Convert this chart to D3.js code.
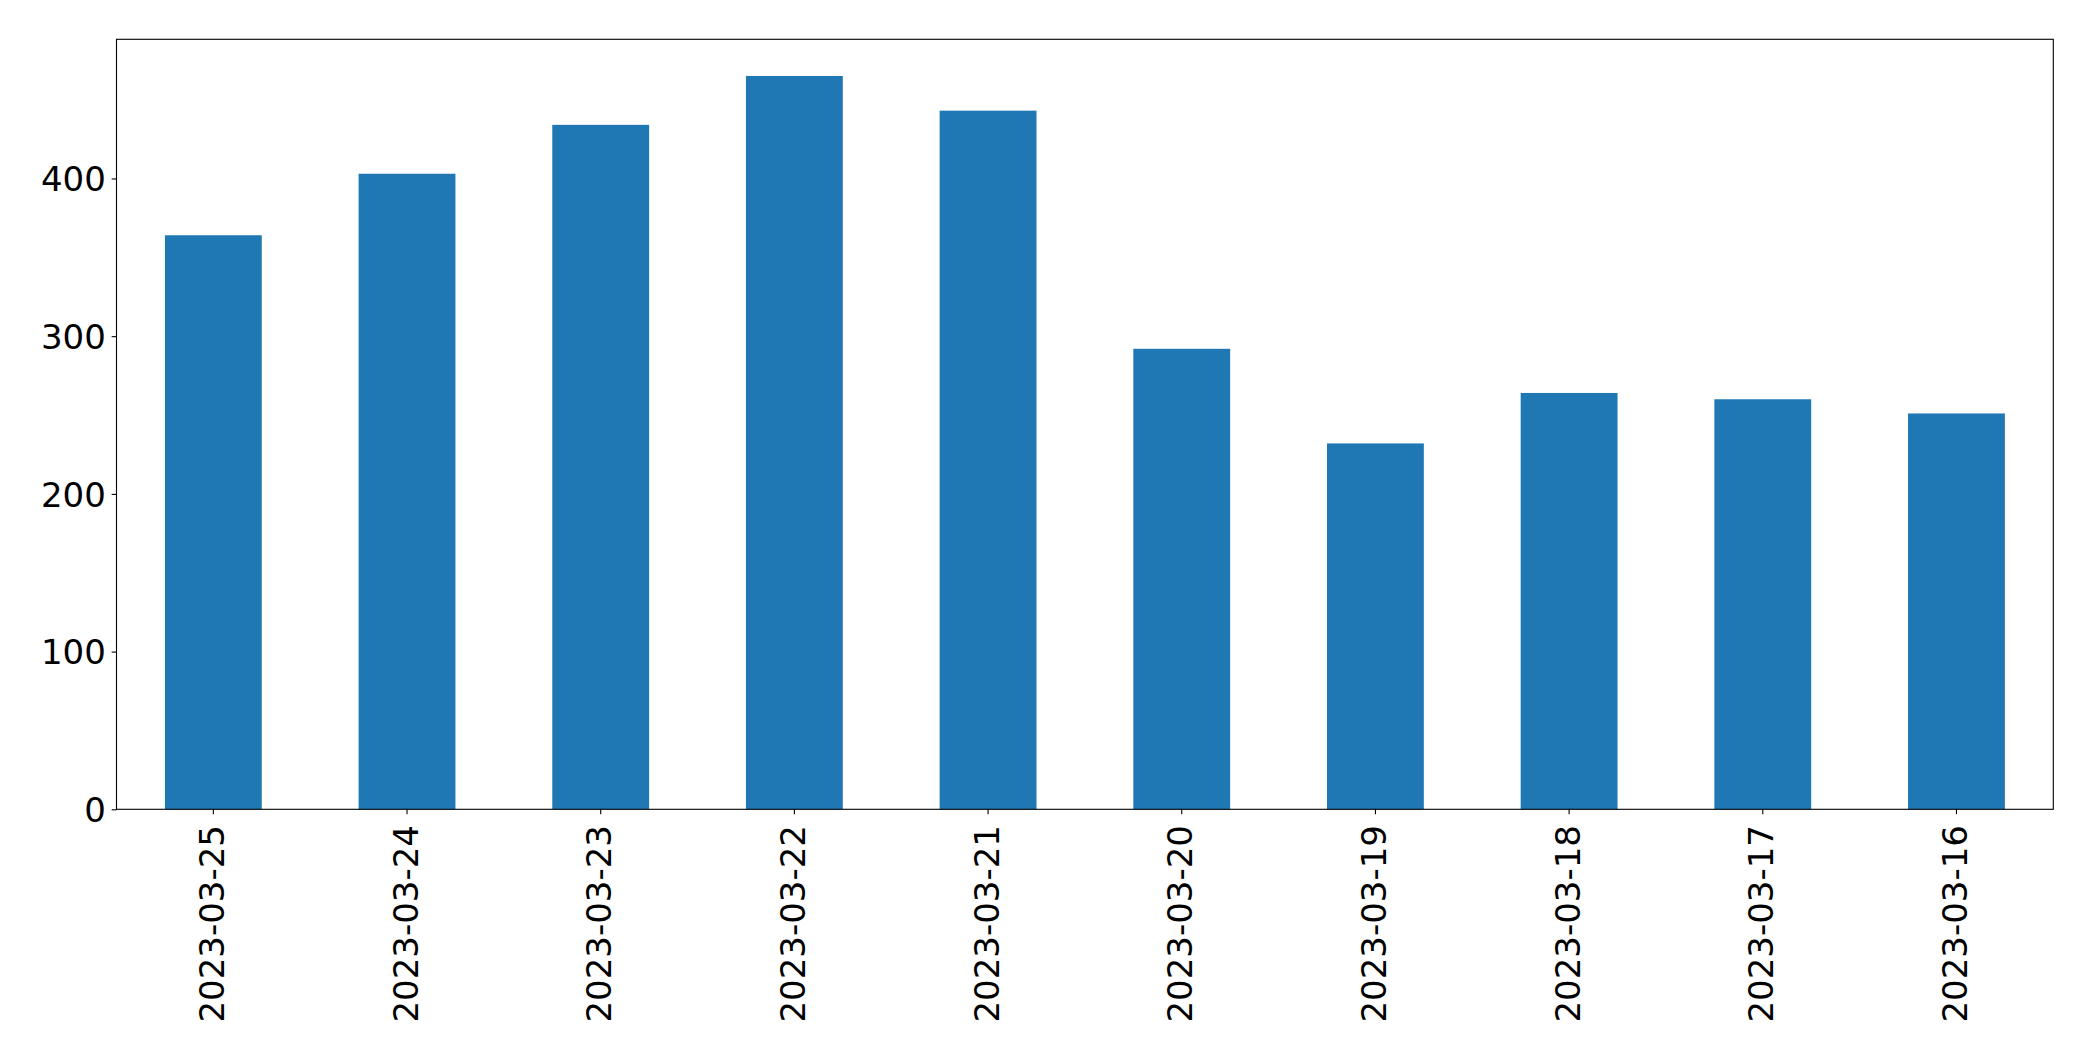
<!DOCTYPE html>
<html>
<head>
<meta charset="utf-8">
<script src="https://cdn.jsdelivr.net/npm/d3@7"></script>
<style>
  html, body { margin: 0; padding: 0; background: #fff; }
  svg { display: block; }
  text { font-family: "DejaVu Sans", sans-serif; fill: #000; }
</style>
</head>
<body>
<svg id="chart" width="2093" height="1061"></svg>
<script>
const categories = ["2023-03-25","2023-03-24","2023-03-23","2023-03-22","2023-03-21","2023-03-20","2023-03-19","2023-03-18","2023-03-17","2023-03-16"];
const values = [364, 403, 434, 465, 443, 292, 232, 264, 260, 251];
const yTicks = [0, 100, 200, 300, 400];

const W = 2093, H = 1061;
const margin = { left: 116.5, top: 39.3, right: W - 2053.3, bottom: H - 809.3 };
const iw = W - margin.left - margin.right;
const ih = H - margin.top - margin.bottom;
const fontPx = 34;
const tickLen = 4.86, pad = 4.86;

const svg = d3.select("#chart");
const g = svg.append("g").attr("transform", `translate(${margin.left},${margin.top})`);

const x = d3.scaleBand().domain(categories).range([0, iw]).paddingInner(0.5).paddingOuter(0.25);
const yMax = d3.max(values) * 1.05;
const y = d3.scaleLinear().domain([0, yMax]).range([ih, 0]);

g.selectAll("rect.bar").data(values).enter().append("rect")
  .attr("class", "bar")
  .attr("x", (d, i) => x(categories[i]))
  .attr("width", x.bandwidth())
  .attr("y", d => y(d))
  .attr("height", d => ih - y(d))
  .attr("fill", "#1f77b4");

// y axis
const yAxis = d3.axisLeft(y).tickValues(yTicks).tickSize(tickLen).tickPadding(pad + 1).tickFormat(d3.format("d"));
const ya = g.append("g").call(yAxis);
ya.select(".domain").remove();
ya.selectAll("line").attr("stroke", "#000").attr("stroke-width", 1.1);
ya.selectAll("text").attr("font-size", fontPx).attr("font-family", "DejaVu Sans").attr("dy", "0.36em");

// x axis
const xAxis = d3.axisBottom(x).tickSize(tickLen).tickPadding(pad);
const xa = g.append("g").attr("transform", `translate(0,${ih})`).call(xAxis);
xa.select(".domain").remove();
xa.selectAll("line").attr("stroke", "#000").attr("stroke-width", 1.1);
xa.selectAll("text")
  .attr("font-size", fontPx)
  .attr("font-family", "DejaVu Sans")
  .attr("text-anchor", "end")
  .attr("transform", `translate(0,${tickLen + pad + 6}) rotate(-90)`)
  .attr("x", 0)
  .attr("y", 0)
  .attr("dy", "0.31em");

// frame
g.append("rect")
  .attr("x", 0).attr("y", 0).attr("width", iw).attr("height", ih)
  .attr("fill", "none").attr("stroke", "#000").attr("stroke-width", 1.1);
</script>
</body>
</html>
